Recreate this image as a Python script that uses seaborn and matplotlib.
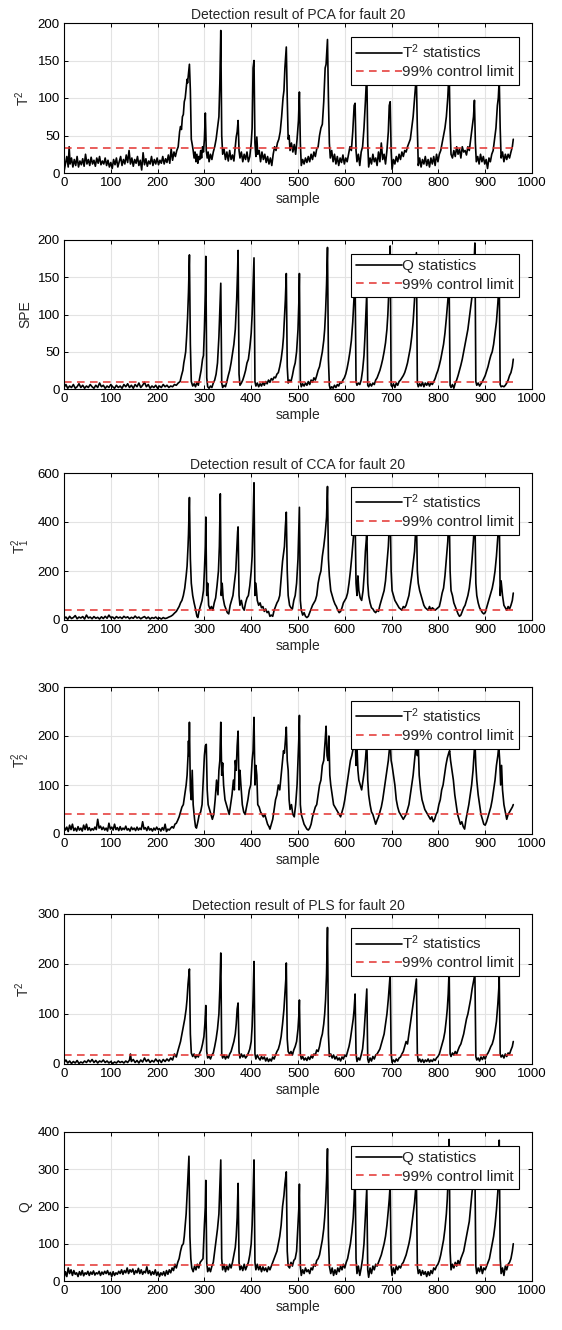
import matplotlib
matplotlib.use("Agg")
import matplotlib.pyplot as plt
import seaborn as sns
import pandas as pd

# ---------------- data (sample, value) ----------------
pca_t2 = [(0,2),(3,12),(6,22),(9,8),(11,35),(13,12),(16,20),(19,8),(22,18),(25,10),(28,22),(31,8),(34,16),(37,11),(40,19),(43,9),(46,25),(49,12),(52,18),(55,10),(58,21),(61,12),(64,17),(67,9),(70,20),(73,13),(76,22),(79,11),(82,16),(85,12),(88,20),(91,10),(94,17),(97,8),(100,14),(103,6),(106,18),(109,11),(112,20),(115,8),(118,15),(121,22),(124,10),(127,18),(130,12),(133,24),(136,14),(139,30),(142,12),(145,20),(148,9),(151,18),(154,13),(157,22),(160,10),(163,17),(166,4),(169,27),(172,11),(175,19),(178,9),(181,16),(184,12),(187,22),(190,10),(193,18),(196,12),(199,20),(202,11),(205,17),(208,13),(211,22),(214,12),(217,19),(220,14),(223,24),(226,13),(229,32),(232,17),(235,28),(238,22),(241,30),
(244,35),(247,55),(249,62),(251,58),(253,75),(255,78),(257,95),(259,100),(261,112),(263,125),(264,120),(266,132),(268,145),(270,110),(272,45),(274,38),(276,30),(278,20),(280,28),(282,15),(284,25),(286,13),(288,22),(290,18),(292,30),(294,20),(296,35),(298,28),(300,45),(302,80),(304,30),(306,20),(308,28),(310,15),(313,25),(316,18),(319,28),(322,35),(325,45),(328,60),(331,75),(333,120),(335,190),(337,50),(339,25),(342,32),(345,18),(348,28),(351,16),(354,30),(357,18),(360,24),(363,16),(366,35),(368,48),(370,55),(372,70),(374,30),(376,20),(379,28),(382,15),(385,25),(388,18),(391,28),(394,15),(397,22),(400,40),(402,60),(404,140),(406,150),(408,40),(410,22),(412,48),(414,25),(417,30),(420,15),(423,28),(426,18),(429,25),(432,14),(435,22),(438,12),(441,20),(444,10),(447,25),(450,35),(453,30),(456,40),(459,45),(462,55),(465,75),(468,100),(470,110),(472,140),(475,168),(477,100),(479,45),(481,50),(483,30),(486,40),(489,28),(492,38),(495,25),(498,45),(501,70),(503,108),(505,40),(507,10),(510,18),(513,12),(516,20),(519,14),(522,22),(525,15),(528,25),(531,18),(534,28),(537,22),(540,32),(543,35),(546,50),(549,60),(552,65),(555,95),(558,140),(560,145),(563,178),(565,100),(567,40),(569,20),(572,30),(575,15),(578,25),(581,12),(584,22),(587,10),(590,20),(593,14),(596,24),(599,12),(602,20),(605,15),(608,25),(611,35),(614,30),(617,55),(620,90),(622,93),(624,30),(626,15),(629,25),(632,10),(635,28),(638,35),(641,60),(644,95),(647,135),(649,40),(651,8),(654,20),(657,12),(660,25),(663,15),(666,20),(669,10),(672,28),(675,15),(678,40),(681,18),(684,25),(687,12),(690,30),(693,55),(695,90),(697,95),(699,30),(701,5),(704,18),(707,12),(710,22),(713,15),(716,25),(719,18),(722,28),(725,22),(728,30),(731,28),(734,35),(737,40),(740,45),(743,60),(746,75),(749,100),(751,115),(753,125),(755,60),(757,10),(760,20),(763,8),(766,18),(769,12),(772,22),(775,10),(778,18),(781,8),(784,20),(787,12),(790,22),(793,10),(796,25),(799,15),(802,25),(805,30),(808,40),(811,50),(814,60),(817,75),(820,100),(823,140),(825,60),(827,25),(830,20),(833,30),(836,22),(839,35),(842,25),(845,32),(848,20),(851,35),(854,28),(857,30),(860,24),(863,35),(866,30),(869,45),(872,60),(875,75),(877,97),(879,40),(881,15),(884,22),(887,12),(890,25),(893,15),(896,22),(899,12),(902,18),(905,6),(908,20),(911,15),(914,25),(917,30),(920,45),(923,60),(926,90),(928,100),(930,125),(932,60),(934,20),(937,28),(940,15),(943,25),(946,18),(949,25),(952,20),(955,28),(958,35),(960,45)]

pca_spe = [(0,2),(4,6),(8,1),(12,4),(16,2),(20,6),(24,1),(28,3),(32,7),(36,2),(40,5),(44,1),(48,4),(52,2),(56,6),(60,3),(64,1),(68,5),(72,2),(76,8),(80,3),(84,5),(88,1),(92,4),(96,2),(100,6),(104,3),(108,1),(112,5),(116,2),(120,4),(124,1),(128,6),(132,3),(136,7),(140,2),(144,5),(148,1),(152,6),(156,3),(160,8),(164,2),(168,5),(172,9),(176,3),(180,6),(184,1),(188,4),(192,2),(196,5),(200,1),(204,4),(208,2),(212,6),(216,3),(220,5),(224,2),(228,4),(232,3),(236,6),(240,5),
(244,8),(248,10),(251,18),(254,25),(256,35),(258,42),(260,50),(262,70),(264,95),(266,130),(268,180),(270,60),(272,10),(275,4),(278,7),(281,3),(284,9),(287,5),(290,15),(293,25),(296,40),(298,45),(300,80),(302,130),(303,178),(305,15),(307,3),(310,1),(313,4),(316,2),(319,8),(322,12),(325,20),(328,35),(331,70),(333,105),(335,142),(337,8),(339,2),(342,5),(345,3),(348,10),(351,18),(354,25),(357,35),(360,48),(363,60),(366,80),(369,120),(371,160),(372,186),(374,20),(376,5),(379,8),(382,12),(385,18),(388,25),(391,35),(394,40),(397,55),(400,75),(402,100),(404,140),(406,176),(408,10),(410,4),(413,8),(416,3),(419,7),(422,4),(425,9),(428,5),(431,10),(434,7),(437,12),(440,9),(443,14),(446,12),(449,16),(452,15),(455,20),(458,22),(461,30),(464,40),(467,55),(469,70),(471,95),(473,120),(475,155),(477,30),(479,8),(482,12),(485,10),(488,18),(491,28),(494,35),(497,50),(500,80),(502,120),(503,155),(505,10),(507,3),(510,7),(513,4),(516,8),(519,5),(522,10),(525,6),(528,12),(531,9),(534,15),(537,12),(540,18),(543,25),(546,30),(549,40),(552,50),(555,65),(557,80),(559,105),(561,140),(563,190),(565,40),(567,5),(569,0),(572,3),(575,1),(578,5),(581,2),(584,6),(587,4),(590,9),(593,8),(596,12),(599,15),(602,20),(605,28),(608,38),(611,50),(614,65),(617,90),(619,115),(621,140),(622,150),(624,10),(626,5),(629,8),(632,6),(635,12),(638,25),(641,45),(643,70),(645,100),(647,130),(649,5),(651,3),(654,7),(657,4),(660,8),(663,6),(666,12),(669,15),(672,20),(675,25),(678,32),(681,40),(684,50),(687,62),(690,80),(692,100),(694,130),(696,160),(697,192),(699,5),(701,3),(704,7),(707,2),(710,8),(713,5),(716,10),(719,12),(722,15),(725,18),(728,22),(731,28),(734,35),(737,45),(740,55),(743,70),(746,90),(749,120),(751,150),(753,183),(755,8),(757,3),(760,7),(763,4),(766,9),(769,3),(772,8),(775,5),(778,9),(781,4),(784,8),(787,6),(790,10),(793,14),(796,20),(799,25),(802,32),(805,40),(808,50),(811,60),(814,75),(817,95),(819,110),(821,125),(823,140),(825,5),(827,2),(830,6),(833,1),(836,8),(839,12),(842,18),(845,25),(848,32),(851,40),(854,50),(857,60),(860,70),(863,80),(866,95),(869,110),(872,125),(874,140),(876,165),(878,196),(880,10),(882,5),(885,8),(888,4),(891,7),(894,10),(897,14),(900,18),(903,24),(906,30),(909,38),(912,45),(915,50),(918,60),(921,75),(924,90),(927,115),(929,135),(930,150),(932,6),(934,3),(937,4),(940,3),(943,5),(946,8),(949,12),(952,18),(955,22),(958,30),(960,40)]

cca_t1 = [(0,5),(4,12),(8,3),(12,15),(16,6),(20,10),(24,18),(28,5),(32,12),(36,8),(40,14),(44,4),(48,20),(52,8),(56,12),(60,5),(64,14),(68,7),(72,11),(76,4),(80,13),(84,6),(88,15),(92,7),(96,20),(100,9),(104,12),(108,5),(112,14),(116,8),(120,12),(124,6),(128,15),(132,9),(136,13),(140,5),(144,11),(148,7),(152,16),(156,8),(160,12),(164,5),(168,10),(172,14),(176,6),(180,12),(184,4),(188,10),(192,7),(196,12),(200,5),(204,9),(208,4),(212,10),(216,6),(220,8),(224,12),(228,15),(232,20),(236,28),(240,35),
(243,45),(246,55),(249,70),(252,80),(255,100),(258,130),(261,180),(263,220),(265,300),(266,350),(267,420),(268,500),(270,250),(272,150),(275,100),(278,70),(281,45),(284,15),(286,10),(289,40),(292,60),(295,80),(298,120),(300,200),(302,300),(303,420),(305,100),(307,150),(309,60),(312,45),(315,55),(318,40),(321,70),(324,90),(327,140),(330,200),(332,300),(334,515),(336,100),(338,150),(340,90),(343,60),(346,45),(349,30),(352,25),(355,60),(358,80),(361,100),(364,150),(367,200),(369,280),(371,360),(372,380),(374,100),(376,60),(379,80),(382,50),(385,40),(388,70),(391,90),(394,100),(397,140),(400,200),(402,260),(404,400),(406,560),(408,100),(410,150),(413,80),(416,60),(419,70),(422,50),(425,55),(428,35),(431,45),(434,30),(437,35),(440,15),(443,20),(446,15),(449,40),(452,55),(455,70),(458,80),(461,100),(464,170),(467,240),(469,270),(471,300),(473,380),(475,440),(477,200),(479,100),(482,60),(485,50),(488,45),(491,80),(494,100),(497,150),(500,250),(502,400),(503,460),(505,80),(507,40),(510,20),(513,30),(516,15),(519,10),(522,15),(525,30),(528,45),(531,60),(534,70),(537,80),(540,100),(543,150),(546,180),(549,200),(552,260),(555,300),(558,350),(561,420),(563,545),(565,250),(567,180),(570,120),(573,100),(576,80),(579,65),(582,55),(585,40),(588,30),(591,35),(594,50),(597,70),(600,80),(603,90),(606,110),(609,150),(612,200),(615,260),(618,330),(620,380),(622,420),(624,150),(626,100),(628,180),(630,120),(633,90),(636,80),(639,120),(642,200),(644,280),(646,330),(647,380),(649,150),(651,100),(654,70),(657,50),(660,45),(663,35),(666,30),(669,40),(672,35),(675,60),(678,80),(681,100),(684,120),(687,160),(690,230),(693,300),(695,380),(697,450),(699,200),(701,120),(704,100),(707,80),(710,70),(713,60),(716,50),(719,45),(722,40),(725,55),(728,50),(731,60),(734,80),(737,100),(740,140),(743,180),(746,230),(749,280),(751,350),(753,420),(755,200),(757,150),(760,120),(763,100),(766,80),(769,60),(772,50),(775,45),(778,40),(781,55),(784,40),(787,50),(790,45),(793,40),(796,45),(799,50),(802,55),(805,80),(808,110),(811,130),(814,180),(817,250),(820,320),(823,460),(825,200),(827,120),(830,100),(833,70),(836,55),(839,40),(842,25),(845,15),(848,20),(851,35),(854,50),(857,60),(860,80),(863,100),(866,130),(869,180),(872,250),(875,330),(878,430),(880,150),(882,100),(885,70),(888,50),(891,40),(894,30),(897,25),(900,30),(903,50),(906,70),(909,90),(912,110),(915,130),(918,160),(921,200),(924,260),(927,340),(930,440),(932,100),(934,160),(937,100),(940,60),(943,50),(946,40),(949,55),(952,45),(955,60),(958,80),(960,110)]

cca_t2 = [(0,15),(3,8),(6,14),(9,5),(12,18),(15,9),(18,20),(21,7),(24,12),(27,6),(30,15),(33,8),(36,12),(39,6),(42,18),(45,9),(48,20),(51,8),(54,13),(57,7),(60,11),(63,8),(66,14),(69,9),(72,30),(75,12),(78,16),(81,9),(84,14),(87,8),(90,12),(93,6),(96,22),(99,10),(102,14),(105,8),(108,20),(111,9),(114,13),(117,7),(120,15),(123,8),(126,12),(129,9),(132,16),(135,8),(138,11),(141,6),(144,14),(147,9),(150,12),(153,7),(156,14),(159,8),(162,12),(165,9),(168,25),(171,10),(174,13),(177,7),(180,15),(183,8),(186,11),(189,6),(192,12),(195,8),(198,14),(201,9),(204,11),(207,6),(210,13),(213,8),(216,20),(219,5),(222,10),(225,8),(228,12),(231,15),(234,12),(237,20),(240,22),
(243,28),(246,35),(249,45),(252,55),(255,60),(258,80),(261,100),(263,120),(265,160),(266,190),(267,160),(268,228),(270,90),(272,70),(274,130),(276,60),(279,30),(281,15),(283,12),(286,25),(289,40),(292,45),(295,60),(298,120),(300,160),(302,180),(304,183),(306,90),(308,60),(311,50),(314,40),(317,30),(320,40),(323,70),(326,110),(329,80),(331,130),(333,150),(335,228),(337,120),(339,145),(341,100),(344,70),(347,60),(350,50),(353,40),(356,60),(359,80),(362,110),(364,90),(366,150),(368,130),(370,180),(372,210),(374,90),(376,130),(378,100),(381,60),(384,45),(387,40),(390,55),(393,70),(396,90),(399,100),(402,150),(404,170),(406,238),(408,100),(410,140),(412,120),(414,60),(417,55),(420,45),(423,40),(426,35),(429,40),(432,30),(435,20),(438,15),(440,10),(443,20),(446,30),(449,50),(452,70),(455,80),(458,100),(461,90),(464,120),(467,150),(469,170),(471,165),(473,190),(475,218),(477,150),(479,130),(481,70),(483,50),(486,60),(489,40),(492,35),(495,60),(498,100),(500,150),(502,200),(503,242),(505,60),(507,40),(510,30),(513,20),(516,15),(519,10),(522,8),(525,12),(528,20),(531,35),(534,45),(537,55),(540,60),(543,80),(546,100),(549,110),(552,140),(555,150),(558,190),(560,220),(562,160),(564,150),(566,200),(568,120),(570,100),(573,80),(576,60),(579,55),(582,50),(585,45),(588,40),(591,35),(594,45),(597,55),(600,70),(603,90),(606,110),(609,130),(612,150),(615,160),(618,175),(620,190),(622,200),(624,140),(626,180),(628,130),(630,110),(633,100),(636,90),(639,110),(642,130),(644,150),(646,175),(647,190),(649,110),(651,80),(654,60),(657,45),(660,40),(663,30),(666,20),(669,28),(672,35),(675,45),(678,55),(681,70),(684,90),(687,110),(690,130),(693,150),(695,170),(697,190),(699,150),(701,140),(704,120),(707,100),(710,70),(713,55),(716,45),(719,40),(722,35),(725,30),(728,35),(731,40),(734,50),(737,60),(740,80),(743,100),(746,120),(749,150),(751,170),(753,195),(755,160),(757,180),(759,120),(762,90),(765,70),(768,60),(771,50),(774,45),(777,40),(780,35),(783,30),(786,35),(789,25),(792,30),(795,40),(798,45),(801,60),(804,70),(807,90),(810,100),(813,120),(816,140),(819,155),(822,165),(824,170),(826,150),(829,130),(832,110),(835,80),(838,60),(841,40),(844,30),(847,20),(850,25),(853,15),(856,10),(859,30),(862,45),(865,60),(868,80),(871,100),(874,130),(876,160),(878,190),(880,140),(882,110),(885,80),(888,60),(891,40),(894,30),(897,20),(900,18),(903,25),(906,35),(909,45),(912,55),(915,70),(918,90),(921,110),(924,140),(927,160),(929,180),(931,150),(933,100),(935,140),(937,90),(940,60),(943,45),(946,30),(949,40),(952,45),(955,50),(958,55),(960,60)]

pls_t2 = [(0,3),(4,8),(8,2),(12,6),(16,1),(20,5),(24,2),(28,7),(32,1),(36,4),(40,2),(44,6),(48,3),(52,8),(56,4),(60,9),(64,3),(68,7),(72,2),(76,6),(80,4),(84,8),(88,3),(92,6),(96,2),(100,5),(104,1),(108,4),(112,2),(116,6),(120,3),(124,5),(128,2),(132,6),(136,3),(140,8),(142,20),(144,5),(148,9),(152,3),(156,7),(160,2),(164,8),(168,4),(172,12),(176,5),(180,9),(184,3),(188,7),(192,4),(196,10),(200,5),(204,8),(208,3),(212,9),(216,5),(220,10),(224,6),(228,12),(232,8),(236,20),(240,14),
(243,25),(246,35),(249,45),(252,60),(255,75),(258,90),(261,110),(263,130),(265,160),(266,170),(268,190),(270,60),(272,22),(275,15),(278,20),(281,12),(284,18),(287,14),(290,22),(293,28),(296,40),(299,55),(301,80),(303,117),(305,25),(307,12),(310,15),(313,10),(316,18),(319,22),(322,35),(325,50),(328,70),(331,100),(333,150),(335,222),(337,20),(339,12),(342,18),(345,10),(348,16),(351,12),(354,20),(357,25),(360,35),(363,45),(366,60),(368,80),(370,110),(372,122),(374,25),(376,12),(379,20),(382,14),(385,18),(388,12),(391,16),(394,22),(397,30),(400,45),(402,75),(404,130),(406,205),(408,20),(410,10),(413,18),(416,12),(419,8),(422,15),(425,10),(428,14),(431,6),(434,12),(437,5),(440,10),(443,6),(446,14),(449,10),(452,18),(455,25),(458,30),(461,40),(464,55),(467,80),(470,110),(472,140),(474,170),(475,202),(477,50),(479,25),(482,20),(485,25),(488,18),(491,28),(494,35),(497,45),(500,70),(502,100),(503,128),(505,20),(507,10),(510,15),(513,8),(516,12),(519,7),(522,14),(525,9),(528,16),(531,12),(534,20),(537,18),(540,28),(543,25),(546,35),(549,50),(552,60),(555,80),(557,100),(559,130),(561,180),(563,273),(565,60),(567,15),(570,20),(573,12),(576,18),(579,10),(582,15),(585,8),(588,12),(591,6),(594,14),(597,10),(600,18),(603,15),(606,25),(609,35),(612,50),(615,70),(618,90),(620,110),(622,140),(624,20),(626,5),(629,12),(632,8),(635,18),(638,30),(641,60),(643,90),(645,120),(647,150),(649,10),(651,3),(654,12),(657,6),(660,15),(663,10),(666,18),(669,20),(672,25),(675,30),(678,40),(681,50),(684,60),(687,80),(690,100),(693,130),(695,155),(697,180),(699,20),(701,3),(704,8),(707,4),(710,10),(713,6),(716,12),(719,14),(722,20),(725,25),(728,35),(731,45),(734,40),(737,60),(740,80),(743,100),(746,120),(749,140),(751,155),(753,170),(755,20),(757,5),(760,10),(763,4),(766,9),(769,3),(772,8),(775,5),(778,10),(781,4),(784,8),(787,5),(790,10),(793,7),(796,12),(799,15),(802,20),(805,30),(808,40),(811,50),(814,65),(817,90),(819,110),(821,140),(823,190),(825,20),(827,15),(830,22),(833,18),(836,25),(839,20),(842,28),(845,35),(848,40),(851,50),(854,60),(857,75),(860,90),(863,100),(866,115),(869,130),(872,150),(875,165),(878,180),(880,15),(882,8),(885,12),(888,6),(891,14),(894,9),(897,15),(900,10),(903,18),(906,22),(909,28),(912,35),(915,40),(918,50),(921,65),(924,85),(927,120),(929,150),(930,175),(932,20),(934,14),(937,18),(940,12),(943,20),(946,15),(949,22),(952,20),(955,28),(958,35),(960,45)]

pls_q = [(0,8),(3,25),(6,12),(9,35),(12,20),(15,30),(18,15),(21,28),(24,18),(27,22),(30,12),(33,25),(36,16),(39,28),(42,14),(45,22),(48,18),(51,26),(54,15),(57,24),(60,18),(63,27),(66,16),(69,22),(72,19),(75,26),(78,15),(81,24),(84,18),(87,26),(90,20),(93,28),(96,17),(99,23),(102,12),(105,25),(108,15),(111,22),(114,18),(117,26),(120,20),(123,30),(126,18),(129,28),(132,22),(135,35),(138,20),(141,30),(144,24),(147,32),(150,18),(153,28),(156,22),(159,34),(162,20),(165,30),(168,18),(171,26),(174,22),(177,38),(180,20),(183,28),(186,16),(189,25),(192,18),(195,30),(198,15),(201,24),(204,12),(207,22),(210,16),(213,25),(216,14),(219,28),(222,18),(225,30),(228,22),(231,35),(234,28),(237,45),(240,35),
(243,50),(246,60),(249,80),(252,95),(255,100),(257,120),(259,150),(261,180),(263,230),(265,280),(267,335),(269,120),(271,60),(273,35),(276,25),(279,40),(282,30),(285,45),(288,35),(291,50),(294,55),(297,60),(300,150),(302,200),(303,270),(305,50),(307,25),(310,35),(313,25),(316,40),(319,50),(322,80),(325,110),(328,140),(331,180),(333,250),(335,325),(337,60),(339,30),(342,45),(345,25),(348,40),(351,30),(354,45),(357,35),(360,50),(363,70),(366,90),(368,120),(370,170),(372,262),(374,50),(376,30),(379,40),(382,28),(385,45),(388,30),(391,40),(394,50),(397,70),(400,100),(402,150),(404,230),(406,325),(408,50),(410,30),(413,45),(416,30),(419,40),(422,25),(425,38),(428,28),(431,35),(434,25),(437,38),(440,30),(443,40),(446,50),(449,60),(452,70),(455,80),(458,100),(461,120),(464,150),(467,200),(470,230),(472,260),(475,293),(477,80),(479,40),(482,35),(485,50),(488,40),(491,55),(494,60),(497,80),(500,150),(502,200),(503,260),(505,40),(507,15),(510,30),(513,20),(516,35),(519,25),(522,30),(525,20),(528,35),(531,30),(534,45),(537,40),(540,55),(543,60),(546,70),(549,90),(552,110),(555,140),(557,170),(559,210),(561,270),(563,355),(565,120),(567,40),(570,20),(573,35),(576,15),(579,30),(582,18),(585,35),(588,25),(591,40),(594,30),(597,45),(600,35),(603,50),(606,60),(609,80),(612,100),(615,130),(618,170),(620,220),(622,300),(624,60),(626,20),(629,40),(632,15),(635,35),(638,60),(641,100),(643,150),(645,200),(647,250),(649,30),(651,10),(654,35),(657,20),(660,40),(663,30),(666,45),(669,40),(672,50),(675,60),(678,70),(681,85),(684,100),(687,120),(690,150),(693,190),(695,220),(697,260),(699,40),(701,15),(704,35),(707,20),(710,40),(713,30),(716,40),(719,35),(722,45),(725,50),(728,60),(731,70),(734,85),(737,100),(740,120),(743,150),(746,180),(749,210),(751,240),(753,270),(755,40),(757,20),(760,30),(763,15),(766,28),(769,18),(772,25),(775,12),(778,25),(781,15),(784,28),(787,20),(790,35),(793,30),(796,40),(799,45),(802,55),(805,70),(808,90),(811,110),(814,140),(817,180),(819,220),(821,280),(823,380),(825,80),(827,30),(830,45),(833,35),(836,50),(839,40),(842,55),(845,45),(848,60),(851,70),(854,80),(857,100),(860,120),(863,140),(866,160),(869,200),(872,240),(875,270),(878,300),(880,40),(882,20),(885,35),(888,25),(891,40),(894,20),(897,35),(900,30),(903,40),(906,50),(909,60),(912,80),(915,100),(918,120),(921,150),(924,190),(927,240),(929,300),(930,378),(932,60),(934,20),(937,35),(940,15),(943,40),(946,30),(949,45),(952,50),(955,60),(958,80),(960,100)]

control_limits = [33, 10, 40, 40, 18, 42]
y_maxes = [200, 200, 600, 300, 300, 400]
y_steps = [50, 50, 200, 100, 100, 100]
y_labels = ["T$^2$", "SPE", "T$_1^2$", "T$_2^2$", "T$^2$", "Q"]
stat_labels = ["T$^2$ statistics", "Q statistics", "T$^2$ statistics",
               "T$^2$ statistics", "T$^2$ statistics", "Q statistics"]
titles = ["Detection result of PCA for fault 20", None,
          "Detection result of CCA for fault 20", None,
          "Detection result of PLS for fault 20", None]
limit_label = "99% control limit"
x_ticks = [0, 100, 200, 300, 400, 500, 600, 700, 800, 900, 1000]
series = [pca_t2, pca_spe, cca_t1, cca_t2, pls_t2, pls_q]

# ---------------- style ----------------
sns.set_style("white")
plt.rcParams["font.family"] = ["Liberation Sans", "DejaVu Sans"]
plt.rcParams["mathtext.fontset"] = "custom"
plt.rcParams["mathtext.rm"] = "Liberation Sans"
plt.rcParams["mathtext.it"] = "Liberation Sans:italic"
plt.rcParams["mathtext.bf"] = "Liberation Sans:bold"

fig = plt.figure(figsize=(5.62, 13.3), dpi=100)
boxes = [(23, 173), (240, 389), (473, 620), (687, 834), (914, 1064), (1132, 1281)]
left_px, right_px = 64, 532
W, H = 562, 1330

for i, data in enumerate(series):
    top, bot = boxes[i]
    ax = fig.add_axes([left_px / W, 1 - bot / H, (right_px - left_px) / W, (bot - top) / H])
    xs = [p[0] for p in data]
    ys = [p[1] for p in data]
    df = pd.DataFrame({"sample": xs, "value": ys})
    sns.lineplot(data=df, x="sample", y="value", ax=ax, color="black",
                 linewidth=1.2, estimator=None, sort=False, label=stat_labels[i])
    lim_df = pd.DataFrame({"sample": [xs[0], xs[-1]],
                           "value": [control_limits[i], control_limits[i]]})
    sns.lineplot(data=lim_df, x="sample", y="value", ax=ax, color="#e3312f",
                 linewidth=1.1, linestyle=(0, (5, 3.5)), estimator=None, label=limit_label)
    ax.set_xlim(0, 1000)
    ax.set_ylim(0, y_maxes[i])
    ax.set_xticks(x_ticks)
    ax.set_yticks(list(range(0, y_maxes[i] + 1, y_steps[i])))
    ax.grid(True, color="#e3e3e3", linewidth=0.8)
    ax.set_axisbelow(True)
    for s in ax.spines.values():
        s.set_color("black")
        s.set_linewidth(0.8)
        s.set_visible(True)
    ax.tick_params(axis="both", direction="in", length=3, width=0.7, labelsize=9.5,
                   top=True, right=True, bottom=True, left=True, pad=3, colors="black")
    ax.set_xlabel("sample", fontsize=10, labelpad=2)
    ax.set_ylabel(y_labels[i], fontsize=10, labelpad=4)
    if titles[i]:
        ax.set_title(titles[i], fontsize=10, pad=3)
    leg = ax.legend(loc="upper right", bbox_to_anchor=(0.972, 0.907), borderaxespad=0,
                    fontsize=11, frameon=True, fancybox=False, handlelength=3.0,
                    handletextpad=0.0, borderpad=0.35, labelspacing=0.3)
    leg.get_frame().set_edgecolor("black")
    leg.get_frame().set_linewidth(0.8)
    leg.get_frame().set_alpha(1)

fig.savefig("out.png", dpi=100)
